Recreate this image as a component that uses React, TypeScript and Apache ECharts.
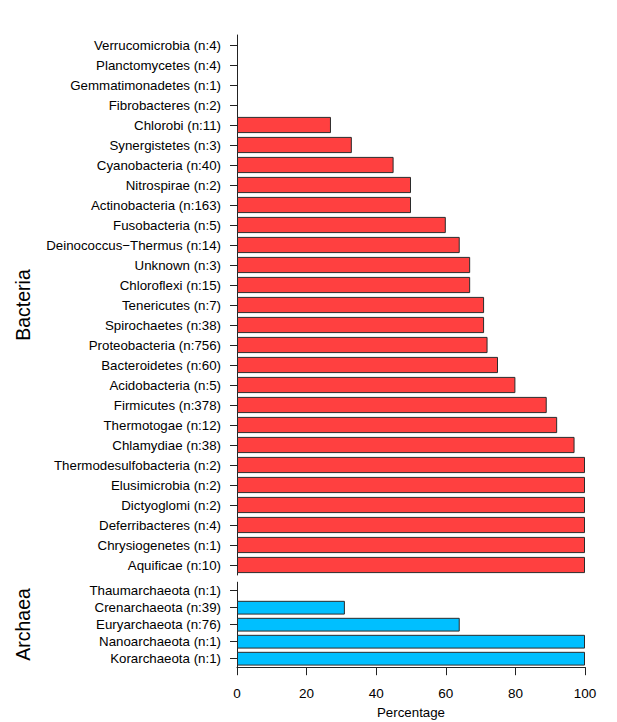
import React, { useEffect, useRef } from "react";
import * as echarts from "echarts";

const bacteriaLabels = [
  "Verrucomicrobia (n:4)",
  "Planctomycetes (n:4)",
  "Gemmatimonadetes (n:1)",
  "Fibrobacteres (n:2)",
  "Chlorobi (n:11)",
  "Synergistetes (n:3)",
  "Cyanobacteria (n:40)",
  "Nitrospirae (n:2)",
  "Actinobacteria (n:163)",
  "Fusobacteria (n:5)",
  "Deinococcus\u2212Thermus (n:14)",
  "Unknown (n:3)",
  "Chloroflexi (n:15)",
  "Tenericutes (n:7)",
  "Spirochaetes (n:38)",
  "Proteobacteria (n:756)",
  "Bacteroidetes (n:60)",
  "Acidobacteria (n:5)",
  "Firmicutes (n:378)",
  "Thermotogae (n:12)",
  "Chlamydiae (n:38)",
  "Thermodesulfobacteria (n:2)",
  "Elusimicrobia (n:2)",
  "Dictyoglomi (n:2)",
  "Deferribacteres (n:4)",
  "Chrysiogenetes (n:1)",
  "Aquificae (n:10)",
];
const bacteriaValues = [
  0, 0, 0, 0, 27, 33, 45, 50, 50, 60, 64, 67, 67, 71, 71, 72, 75, 80, 89, 92, 97,
  100, 100, 100, 100, 100, 100,
];

const archaeaLabels = [
  "Thaumarchaeota (n:1)",
  "Crenarchaeota (n:39)",
  "Euryarchaeota (n:76)",
  "Nanoarchaeota (n:1)",
  "Korarchaeota (n:1)",
];
const archaeaValues = [0, 31, 64, 100, 100];

const xTicks = { min: 0, max: 100, interval: 20 };

const FONT = "Liberation Sans, Arial, Helvetica, sans-serif";
const AXIS_COLOR = "#222";

const toItems = (vals: number[]) =>
  vals.map((v) => (v === 0 ? { value: v, itemStyle: { borderWidth: 0 } } : v));

export default function App() {
  const ref = useRef<HTMLDivElement>(null);
  useEffect(() => {
    if (!ref.current) return;
    const chart = echarts.init(ref.current, undefined, { renderer: "svg" });
    const yAxisCommon = {
      type: "category" as const,
      inverse: true,
      axisLine: { show: true, lineStyle: { color: AXIS_COLOR, width: 1 } },
      axisTick: {
        show: true,
        alignWithLabel: true,
        inside: false,
        length: 7,
        lineStyle: { color: AXIS_COLOR, width: 1 },
      },
      axisLabel: {
        fontSize: 13.3,
        color: "#000",
        fontFamily: FONT,
        margin: 16,
        interval: 0,
      },
      splitLine: { show: false },
    };
    chart.setOption({
      animation: false,
      backgroundColor: "#fff",
      textStyle: { fontFamily: FONT },
      grid: [
        { left: 237, right: 32, top: 35, height: 540, containLabel: false },
        { left: 237, right: 32, top: 582.2, height: 85, containLabel: false },
      ],
      xAxis: [
        {
          gridIndex: 0,
          type: "value",
          min: xTicks.min,
          max: xTicks.max,
          interval: xTicks.interval,
          show: false,
          splitLine: { show: false },
        },
        {
          gridIndex: 1,
          type: "value",
          min: xTicks.min,
          max: xTicks.max,
          interval: xTicks.interval,
          axisLine: { show: true, lineStyle: { color: AXIS_COLOR, width: 1 } },
          axisTick: {
            show: true,
            inside: false,
            length: 8,
            lineStyle: { color: AXIS_COLOR, width: 1 },
          },
          axisLabel: {
            fontSize: 13.5,
            color: "#000",
            fontFamily: FONT,
            margin: 19,
            showMinLabel: true,
            showMaxLabel: true,
          },
          splitLine: { show: false },
          name: "Percentage",
          nameLocation: "middle",
          nameGap: 39,
          nameTextStyle: { fontSize: 13.3, color: "#000", fontFamily: FONT },
        },
      ],
      yAxis: [
        { ...yAxisCommon, gridIndex: 0, data: bacteriaLabels },
        { ...yAxisCommon, gridIndex: 1, data: archaeaLabels },
      ],
      graphic: [
        {
          type: "text",
          x: 22.5,
          y: 305,
          rotation: Math.PI / 2,
          style: {
            text: "Bacteria",
            fontSize: 19.5,
            fontFamily: FONT,
            fill: "#000",
            align: "center",
            verticalAlign: "middle",
          },
        },
        {
          type: "text",
          x: 22.5,
          y: 624.5,
          rotation: Math.PI / 2,
          style: {
            text: "Archaea",
            fontSize: 19.5,
            fontFamily: FONT,
            fill: "#000",
            align: "center",
            verticalAlign: "middle",
          },
        },
      ],
      series: [
        {
          type: "bar",
          xAxisIndex: 0,
          yAxisIndex: 0,
          data: toItems(bacteriaValues),
          barWidth: "81%",
          itemStyle: { color: "#FF4040", borderColor: "#2b2b2b", borderWidth: 1 },
        },
        {
          type: "bar",
          xAxisIndex: 1,
          yAxisIndex: 1,
          data: toItems(archaeaValues),
          barWidth: "81%",
          itemStyle: { color: "#00BFFF", borderColor: "#2b2b2b", borderWidth: 1 },
        },
      ],
    });
    return () => chart.dispose();
  }, []);
  return (
    <div
      ref={ref}
      style={{ position: "absolute", left: 0, top: 0, width: 617, height: 722 }}
    />
  );
}
